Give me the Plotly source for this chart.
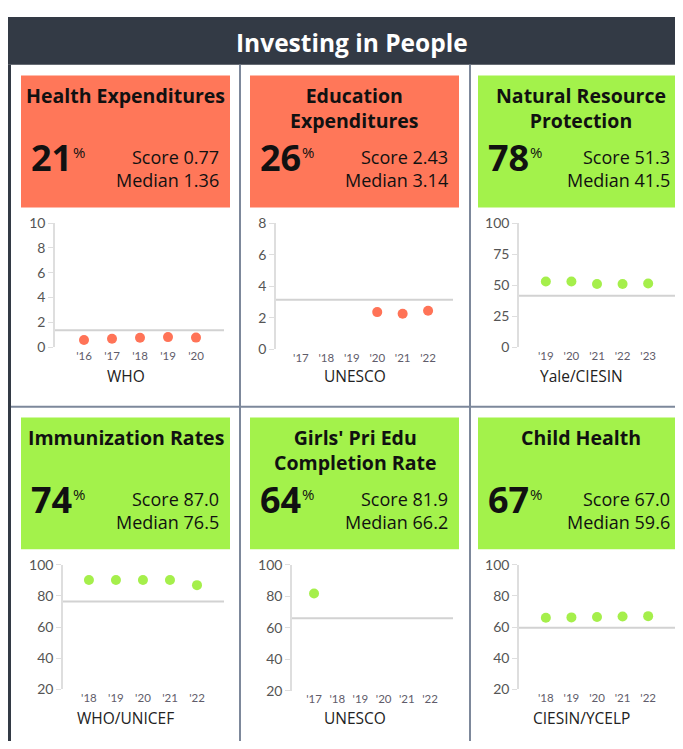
import plotly.graph_objects as go

# ---------------- data ----------------
panel_titles = ["Health Expenditures", "Education<br>Expenditures", "Natural Resource<br>Protection",
                "Immunization Rates", "Girls' Pri Edu<br>Completion Rate", "Child Health"]
percentiles = [21, 26, 78, 74, 64, 67]
scores = ["0.77", "2.43", "51.3", "87.0", "81.9", "67.0"]
medians = [1.36, 3.14, 41.5, 76.5, 66.2, 59.6]
median_labels = ["1.36", "3.14", "41.5", "76.5", "66.2", "59.6"]
sources = ["WHO", "UNESCO", "Yale/CIESIN", "WHO/UNICEF", "UNESCO", "CIESIN/YCELP"]
passed = [False, False, True, True, True, True]

years_health = ["'16", "'17", "'18", "'19", "'20"]
values_health = [0.57, 0.68, 0.76, 0.81, 0.77]
years_edu = ["'17", "'18", "'19", "'20", "'21", "'22"]
values_edu = [None, None, None, 2.35, 2.24, 2.43]
years_nat = ["'19", "'20", "'21", "'22", "'23"]
values_nat = [53.0, 53.0, 50.9, 50.9, 51.3]
years_imm = ["'18", "'19", "'20", "'21", "'22"]
values_imm = [90.3, 90.3, 90.3, 90.3, 87.0]
years_girls = ["'17", "'18", "'19", "'20", "'21", "'22"]
values_girls = [81.9, None, None, None, None, None]
years_child = ["'18", "'19", "'20", "'21", "'22"]
values_child = [66.0, 66.2, 66.4, 66.8, 67.0]

y_ranges = [[0, 10], [0, 8], [0, 100], [20, 100], [20, 100], [20, 100]]
y_ticks = [[0, 2, 4, 6, 8, 10], [0, 2, 4, 6, 8], [0, 25, 50, 75, 100],
           [20, 40, 60, 80, 100], [20, 40, 60, 80, 100], [20, 40, 60, 80, 100]]

series = [(years_health, values_health), (years_edu, values_edu), (years_nat, values_nat),
          (years_imm, values_imm), (years_girls, values_girls), (years_child, values_child)]

# ---------------- layout geometry (screen px; page body has an 8px margin) ----------------
W, H = 667, 733
OX, OY = 8, 8

def px(x):
    return (x - OX) / W

def py(y):
    return 1 - (y - OY) / H

RED, GREEN = "#ff7759", "#a3f24b"
DOT_RED, DOT_GREEN = "#ff7357", "#a5ef4b"
DARK = "#333a45"
DIV = "#7d889b"

box_x = [(21, 230), (250, 459), (478, 700)]
plot_x = [(55, 224), (276, 453), (519, 682), (63, 224), (292, 453), (519, 682)]
x_ranges = [[-1.036, 5.0], [-0.98, 5.98], [-1.05, 5.05], [-0.96, 5.0], [-0.95, 5.99], [-1.05, 5.05]]
plot_y = [(219, 346), (219, 348), (219, 346), (569, 696), (569, 698), (569, 696)]

fig = go.Figure()
shapes = []
annotations = []

HEAD_FONT = "Open Sans"
TICK_FONT = "Lato"

# header
shapes.append(dict(type="rect", xref="paper", yref="paper", x0=px(8), x1=px(700), y0=py(57), y1=py(8),
                   fillcolor=DARK, line=dict(width=0), layer="below"))
annotations.append(dict(xref="paper", yref="paper", x=px(352), y=py(34), text="<b>Investing in People</b>",
                        showarrow=False, xanchor="center", yanchor="middle",
                        font=dict(family=HEAD_FONT, size=24.5, color="white")))
# left border
shapes.append(dict(type="line", xref="paper", yref="paper", x0=px(9.5), x1=px(9.5), y0=py(57), y1=py(760),
                   line=dict(color=DARK, width=3)))
# dividers
for xd in (240, 470):
    shapes.append(dict(type="line", xref="paper", yref="paper", x0=px(xd), x1=px(xd), y0=py(57), y1=py(760),
                       line=dict(color=DIV, width=2)))
shapes.append(dict(type="line", xref="paper", yref="paper", x0=px(11), x1=px(700), y0=py(407), y1=py(407),
                   line=dict(color=DIV, width=2)))

for i in range(6):
    row, col = divmod(i, 3)
    dy = 350 * row
    bx0, bx1 = box_x[col]
    color = GREEN if passed[i] else RED
    dot = DOT_GREEN if passed[i] else DOT_RED
    shapes.append(dict(type="rect", xref="paper", yref="paper", x0=px(bx0), x1=px(bx1),
                       y0=py(203 + dy), y1=py(68 + dy), fillcolor=color, line=dict(width=0), layer="below"))
    cx = (bx0 + bx1) / 2 if col < 2 else 581
    # title
    annotations.append(dict(xref="paper", yref="paper", x=px(cx), y=py(73 + dy), text="<b>%s</b>" % panel_titles[i],
                            showarrow=False, xanchor="center", yanchor="top",
                            font=dict(family=HEAD_FONT, size=19.5, color="#111")))
    # big number
    annotations.append(dict(xref="paper", yref="paper", x=px(bx0 + 53), y=py(152 + dy),
                            text="<b>%d</b>" % percentiles[i], showarrow=False, xanchor="right", yanchor="middle",
                            font=dict(family=HEAD_FONT, size=36, color="#111")))
    annotations.append(dict(xref="paper", yref="paper", x=px(bx0 + 50), y=py(146 + dy),
                            text="%", showarrow=False, xanchor="left", yanchor="middle",
                            font=dict(family=HEAD_FONT, size=15, color="#111")))
    rx = bx1 - 9 if col < 2 else 672
    annotations.append(dict(xref="paper", yref="paper", x=px(rx), y=py(151 + dy),
                            text="Score %s" % scores[i], showarrow=False, xanchor="right", yanchor="middle",
                            font=dict(family=HEAD_FONT, size=18, color="#111")))
    annotations.append(dict(xref="paper", yref="paper", x=px(rx), y=py(175 + dy),
                            text="Median %s" % median_labels[i], showarrow=False, xanchor="right", yanchor="middle",
                            font=dict(family=HEAD_FONT, size=18, color="#111")))
    # source
    annotations.append(dict(xref="paper", yref="paper", x=px(cx), y=py(376 + dy),
                            text=sources[i], showarrow=False, xanchor="center", yanchor="middle",
                            font=dict(family=HEAD_FONT, size=15.5, color="#222")))

    # chart
    xs, ys = series[i]
    sfx = "" if i == 0 else str(i + 1)
    fig.add_trace(go.Scatter(x=xs, y=ys, mode="markers", xaxis="x" + sfx, yaxis="y" + sfx,
                             marker=dict(color=dot, size=10), showlegend=False, hoverinfo="x+y",
                             cliponaxis=False))
    x0, x1 = plot_x[i]
    y0, y1 = plot_y[i]
    fig.layout["xaxis" + sfx] = dict(domain=[px(x0), min(px(x1), 1)], anchor="y" + sfx, type="category",
                                     range=x_ranges[i], showline=False, showgrid=False, zeroline=False,
                                     ticks="", tickfont=dict(family=TICK_FONT, size=11.5, color="#5f5c6a"),
                                     fixedrange=True)
    fig.layout["yaxis" + sfx] = dict(domain=[py(y1), py(y0)], anchor="x" + sfx, range=y_ranges[i],
                                     tickvals=y_ticks[i], showline=True, linecolor="#dedede", linewidth=1.5,
                                     ticks="outside", ticklen=5, tickcolor="#dedede", showgrid=False,
                                     zeroline=False, tickfont=dict(family=TICK_FONT, size=14, color="#555"),
                                     fixedrange=True)
    shapes.append(dict(type="line", xref="x%s domain" % sfx, yref="y" + sfx, x0=0, x1=1,
                       y0=medians[i], y1=medians[i], line=dict(color="#d2d2d2", width=2), layer="below"))

fig.update_layout(width=W, height=H, margin=dict(l=0, r=0, t=0, b=0), autosize=False,
                  paper_bgcolor="white", plot_bgcolor="white", shapes=shapes, annotations=annotations)
fig.write_html("out.html")
